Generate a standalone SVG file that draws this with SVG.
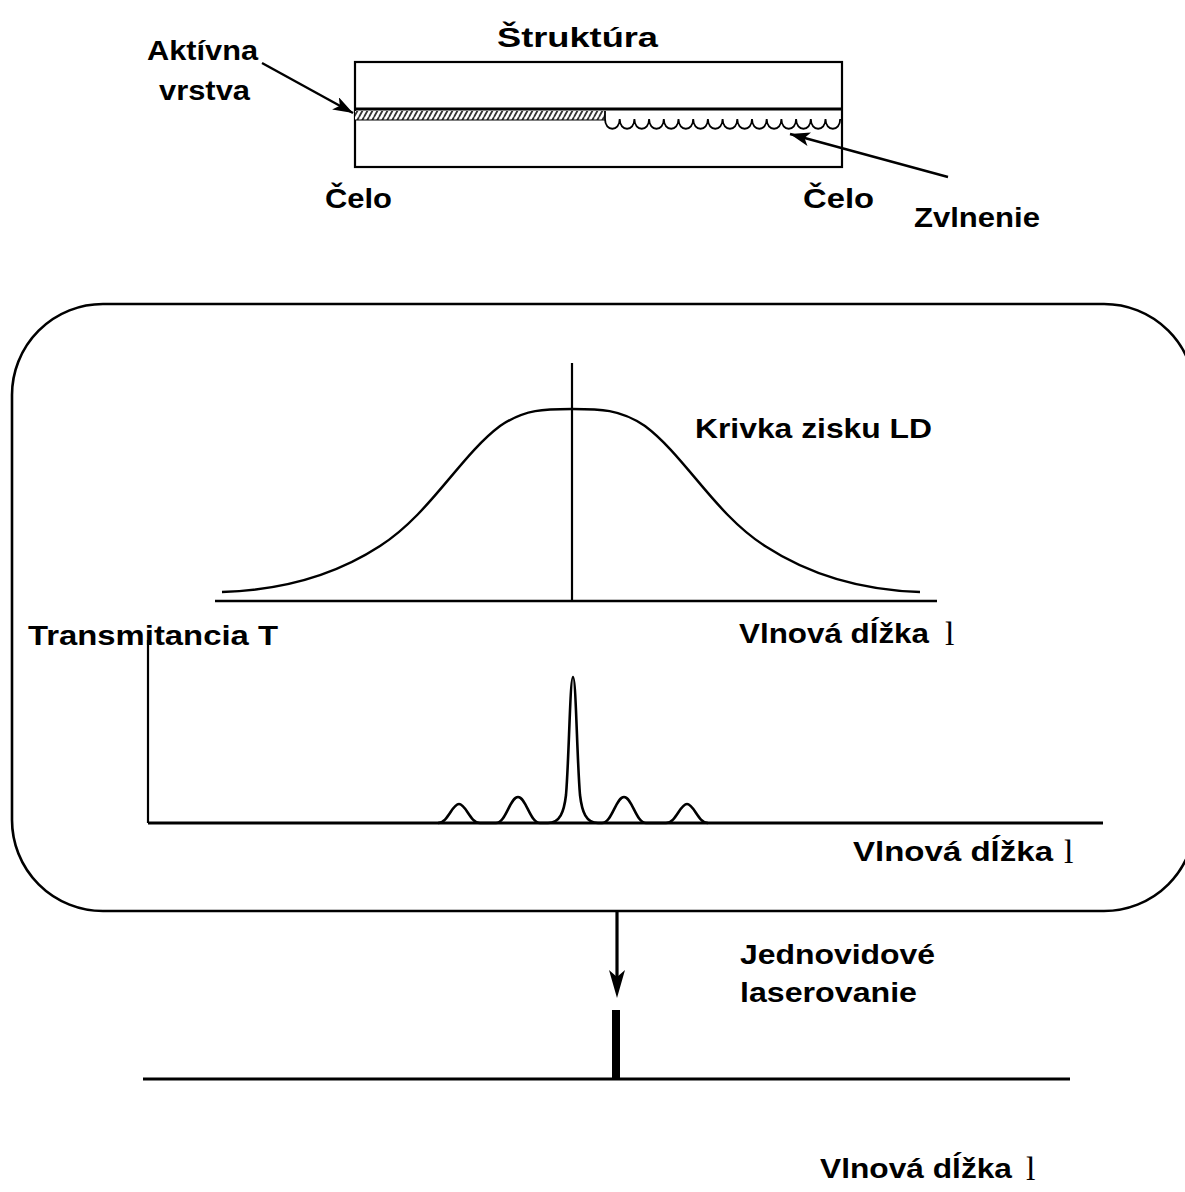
<svg xmlns="http://www.w3.org/2000/svg" width="1185" height="1192" viewBox="0 0 1185 1192">
<style>
.t{font-family:"Liberation Sans",Arial,sans-serif;font-weight:bold;font-size:28px;fill:#000}
.s{font-family:"Liberation Serif","Times New Roman",serif;font-size:34px;fill:#000}
.ln{stroke:#000;fill:none}
</style>
<defs>
<pattern id="hatch" patternUnits="userSpaceOnUse" width="5" height="9">
<rect width="5" height="9" fill="#fff"/>
<path d="M-1,9 L4,0 M4,9 L9,0" stroke="#333" stroke-width="1.8"/>
</pattern>
<marker id="ah" markerWidth="22" markerHeight="14" refX="20" refY="7" orient="auto" markerUnits="userSpaceOnUse">
<path d="M0,0 L20,7 L0,14 L5,7 Z" fill="#000"/>
</marker>
</defs>
<rect width="1185" height="1192" fill="#fff"/>

<g id="structure">
<text class="t" x="497" y="47" font-size="33" textLength="161" lengthAdjust="spacingAndGlyphs">Štruktúra</text>
<rect x="355" y="62" width="487" height="105" class="ln" stroke-width="2.2"/>
<rect x="355" y="111" width="250" height="9" fill="url(#hatch)"/>
<line x1="355" y1="120" x2="605" y2="120" class="ln" stroke-width="1.2"/>
<line x1="355" y1="109" x2="842" y2="109" class="ln" stroke-width="3"/>
<path class="ln" stroke-width="1.8" d="M605,111 L605,119 c0,13 14.7,13 14.7,0 c0,13 14.7,13 14.7,0 c0,13 14.7,13 14.7,0 c0,13 14.7,13 14.7,0 c0,13 14.7,13 14.7,0 c0,13 14.7,13 14.7,0 c0,13 14.7,13 14.7,0 c0,13 14.7,13 14.7,0 c0,13 14.7,13 14.7,0 c0,13 14.7,13 14.7,0 c0,13 14.7,13 14.7,0 c0,13 14.7,13 14.7,0 c0,13 14.7,13 14.7,0 c0,13 14.7,13 14.7,0 c0,13 14.7,13 14.7,0 c0,13 14.7,13 14.7,0"/>
</g>

<g id="label-aktivna">
<text class="t" x="147" y="60" textLength="111" lengthAdjust="spacingAndGlyphs">Aktívna</text>
<text class="t" x="159" y="100" textLength="91" lengthAdjust="spacingAndGlyphs">vrstva</text>
</g>
<g id="label-celo1"><text class="t" x="325" y="208" textLength="67" lengthAdjust="spacingAndGlyphs">Čelo</text></g>
<g id="label-celo2"><text class="t" x="803" y="208" textLength="71" lengthAdjust="spacingAndGlyphs">Čelo</text></g>
<g id="label-zvlnenie"><text class="t" x="914" y="227" textLength="126" lengthAdjust="spacingAndGlyphs">Zvlnenie</text></g>

<g id="frame">
<rect x="12" y="304" width="1183" height="607" rx="91" ry="91" class="ln" stroke-width="2.6"/>
</g>

<g id="gain-chart">
<line x1="572" y1="363" x2="572" y2="601" class="ln" stroke-width="2.2"/>
<line x1="215" y1="601" x2="937" y2="601" class="ln" stroke-width="2.6"/>
<path class="ln" stroke-width="2.4" d="M222,592 C290,590 340,572 380,546 C430,514 460,456 500,426 C525,409 545,409 572,409 C600,409 620,409 645,426 C685,456 715,514 765,546 C805,572 855,590 920,592"/>
<text class="t" x="695" y="438" textLength="237" lengthAdjust="spacingAndGlyphs">Krivka zisku LD</text>
<text class="t" x="739" y="643" textLength="190" lengthAdjust="spacingAndGlyphs">Vlnová dĺžka</text>
<text class="s" x="945" y="645">l</text>
</g>

<g id="transmittance-chart">
<text class="t" x="28" y="645" textLength="250" lengthAdjust="spacingAndGlyphs">Transmitancia  T</text>
<line x1="148" y1="640" x2="148" y2="823" class="ln" stroke-width="2.2"/>
<line x1="148" y1="823" x2="1103" y2="823" class="ln" stroke-width="3.2"/>
<path class="ln" stroke-width="2.6" d="M438,823 C448,823 452,804 459,804 C466,804 470,823 480,823 L496,823 C506,823 510,797 518,797 C526,797 530,823 540,823 L548,823 C560,823 564,812 566,795 C569,760 570,677 573,677 C576,677 577,760 580,795 C582,812 586,823 598,823 L602,823 C612,823 616,797 624,797 C632,797 636,823 646,823 L666,823 C676,823 680,804 687,804 C694,804 698,823 708,823"/>
<text class="t" x="853" y="861" textLength="200" lengthAdjust="spacingAndGlyphs">Vlnová dĺžka</text>
<text class="s" x="1064" y="863">l</text>
</g>

<g id="connectors">
<line x1="262" y1="63" x2="353" y2="113" class="ln" stroke-width="2.4" marker-end="url(#ah)"/>
<line x1="948" y1="177" x2="790" y2="134" class="ln" stroke-width="2.4" marker-end="url(#ah)"/>
<line x1="617" y1="912" x2="617" y2="980" class="ln" stroke-width="3.2"/>
<path d="M617,998 L609,970 L617,977 L625,970 Z" fill="#000"/>
</g>

<g id="output-chart">
<rect x="612" y="1010" width="8" height="69" fill="#000"/>
<line x1="143" y1="1079" x2="1070" y2="1079" class="ln" stroke-width="3.2"/>
<text class="t" x="740" y="964" textLength="195" lengthAdjust="spacingAndGlyphs">Jednovidové</text>
<text class="t" x="740" y="1002" textLength="177" lengthAdjust="spacingAndGlyphs">laserovanie</text>
<text class="t" x="820" y="1178" textLength="192" lengthAdjust="spacingAndGlyphs">Vlnová dĺžka</text>
<text class="s" x="1026" y="1180">l</text>
</g>
</svg>
